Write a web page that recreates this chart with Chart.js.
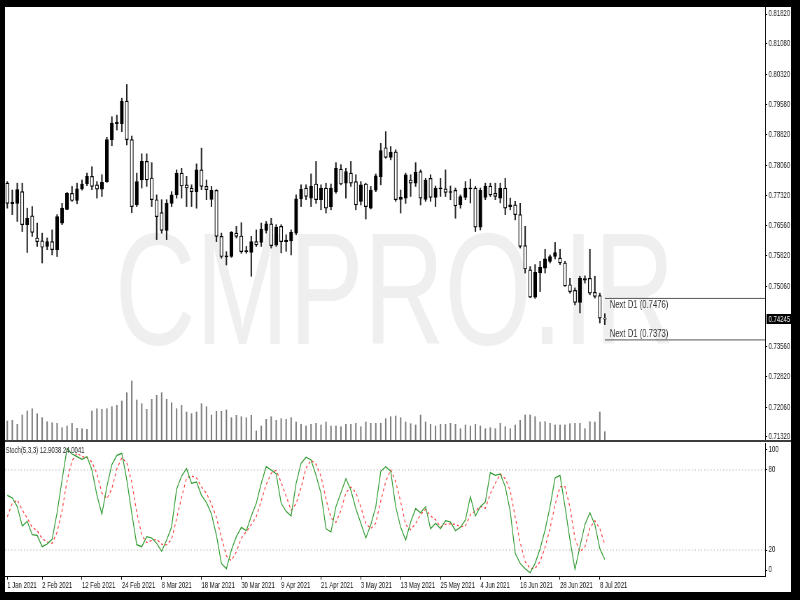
<!DOCTYPE html>
<html>
<head>
<meta charset="utf-8">
<title>D1 chart</title>
<script src="https://cdn.jsdelivr.net/npm/chart.js@4.4.1/dist/chart.umd.min.js"></script>
<style>
  html, body { margin: 0; padding: 0; background: #000; }
  body { width: 800px; height: 600px; position: relative; overflow: hidden; }
  #frame { position: absolute; left: 5px; top: 7px; width: 786px; height: 585px; background: #fff; }
  #sep { position: absolute; left: 5px; top: 440px; width: 786px; height: 2px; background: #3c3c3c; }
  canvas { position: absolute; left: 5px; }
</style>
</head>
<body>
<div id="frame"></div>
<canvas id="price" width="1123" height="433" style="top:7px;width:786px;height:433px"></canvas>
<div id="sep"></div>
<canvas id="stoch" width="1123" height="150" style="top:442px;width:786px;height:150px"></canvas>
<script>
// daily candles, oldest first
const opens = [
  0.7762,0.7711,0.7712,0.7741,0.7659,0.7681,0.7626,0.7619,0.7605,0.7617,
  0.7597,0.7663,0.7697,0.7737,0.7719,0.7748,0.7761,0.7779,0.7758,0.7747,
  0.7766,0.7870,0.7910,0.7910,0.7966,0.7870,0.7708,0.7770,0.7816,0.7775,
  0.7721,0.7689,0.7645,0.7712,0.7733,0.7787,0.7758,0.7750,0.7741,0.7795,
  0.7754,0.7722,0.7744,0.7630,0.7579,0.7580,0.7638,0.7631,0.7592,0.7590,
  0.7617,0.7615,0.7645,0.7661,0.7609,0.7655,0.7617,0.7619,0.7638,0.7723,
  0.7750,0.7725,0.7760,0.7721,0.7750,0.7704,0.7741,0.7797,0.7762,0.7787,
  0.7766,0.7717,0.7760,0.7700,0.7745,0.7778,0.7850,0.7826,0.7840,0.7722,
  0.7725,0.7770,0.7762,0.7791,0.7722,0.7774,0.7727,0.7748,0.7748,0.7739,
  0.7744,0.7708,0.7727,0.7748,0.7750,0.7653,0.7727,0.7755,0.7737,0.7725,
  0.7750,0.7704,0.7708,0.7684,0.7607,0.7547,0.7479,0.7539,0.7551,0.7568,
  0.7580,0.7576,0.7564,0.7510,0.7496,0.7466,0.7521,0.7526,0.7491,0.7483,
  0.7426
];
const highs = [
  0.7766,0.7745,0.7762,0.7762,0.7700,0.7704,0.7663,0.7638,0.7626,0.7646,
  0.7684,0.7712,0.7739,0.7754,0.7762,0.7770,0.7787,0.7803,0.7766,0.7783,
  0.7876,0.7927,0.7931,0.7973,0.8007,0.7879,0.7787,0.7835,0.7835,0.7813,
  0.7733,0.7721,0.7721,0.7741,0.7795,0.7799,0.7779,0.7758,0.7810,0.7849,
  0.7770,0.7754,0.7746,0.7638,0.7592,0.7642,0.7655,0.7664,0.7605,0.7630,
  0.7646,0.7663,0.7667,0.7675,0.7659,0.7659,0.7634,0.7646,0.7733,0.7758,
  0.7758,0.7785,0.7816,0.7758,0.7762,0.7760,0.7813,0.7808,0.7799,0.7816,
  0.7783,0.7766,0.7762,0.7754,0.7785,0.7861,0.7890,0.7853,0.7845,0.7745,
  0.7787,0.7783,0.7813,0.7795,0.7774,0.7783,0.7755,0.7774,0.7795,0.7755,
  0.7750,0.7733,0.7766,0.7772,0.7754,0.7750,0.7762,0.7762,0.7762,0.7762,
  0.7774,0.7725,0.7717,0.7712,0.7655,0.7555,0.7560,0.7568,0.7598,0.7584,
  0.7615,0.7598,0.7568,0.7526,0.7502,0.7531,0.7532,0.7598,0.7531,0.7489,
  0.7438
];
const lows = [
  0.7700,0.7684,0.7667,0.7642,0.7590,0.7630,0.7605,0.7564,0.7597,0.7584,
  0.7580,0.7659,0.7696,0.7717,0.7711,0.7745,0.7756,0.7746,0.7725,0.7729,
  0.7764,0.7855,0.7894,0.7890,0.7857,0.7689,0.7704,0.7750,0.7754,0.7704,
  0.7622,0.7638,0.7622,0.7704,0.7725,0.7725,0.7704,0.7704,0.7700,0.7746,
  0.7721,0.7704,0.7617,0.7576,0.7559,0.7578,0.7626,0.7588,0.7588,0.7531,
  0.7605,0.7605,0.7638,0.7601,0.7605,0.7589,0.7593,0.7584,0.7634,0.7704,
  0.7721,0.7704,0.7712,0.7696,0.7688,0.7696,0.7737,0.7758,0.7725,0.7754,
  0.7696,0.7708,0.7673,0.7698,0.7741,0.7758,0.7824,0.7820,0.7717,0.7688,
  0.7712,0.7729,0.7754,0.7708,0.7717,0.7717,0.7704,0.7729,0.7729,0.7721,
  0.7675,0.7700,0.7721,0.7713,0.7642,0.7646,0.7721,0.7729,0.7721,0.7713,
  0.7684,0.7696,0.7671,0.7601,0.7539,0.7478,0.7476,0.7493,0.7539,0.7564,
  0.7574,0.7560,0.7506,0.7489,0.7460,0.7440,0.7514,0.7485,0.7477,0.7415,
  0.7411
];
const closes = [
  0.7712,0.7715,0.7746,0.7659,0.7675,0.7640,0.7617,0.7603,0.7617,0.7597,
  0.7679,0.7700,0.7737,0.7719,0.7748,0.7760,0.7779,0.7754,0.7747,0.7764,
  0.7870,0.7911,0.7913,0.7966,0.7870,0.7704,0.7766,0.7816,0.7770,0.7721,
  0.7679,0.7645,0.7712,0.7733,0.7787,0.7755,0.7750,0.7741,0.7795,0.7754,
  0.7746,0.7744,0.7630,0.7580,0.7582,0.7640,0.7630,0.7592,0.7595,0.7617,
  0.7609,0.7648,0.7661,0.7607,0.7653,0.7617,0.7621,0.7640,0.7723,0.7747,
  0.7729,0.7755,0.7721,0.7750,0.7700,0.7750,0.7799,0.7760,0.7791,0.7762,
  0.7708,0.7758,0.7704,0.7745,0.7780,0.7843,0.7826,0.7839,0.7721,0.7727,
  0.7783,0.7762,0.7789,0.7725,0.7770,0.7727,0.7750,0.7750,0.7739,0.7741,
  0.7706,0.7729,0.7750,0.7750,0.7653,0.7744,0.7755,0.7733,0.7729,0.7750,
  0.7700,0.7708,0.7684,0.7605,0.7549,0.7479,0.7541,0.7554,0.7574,0.7580,
  0.7590,0.7564,0.7507,0.7493,0.7466,0.7526,0.7525,0.7489,0.7481,0.7427,
  0.74245
];
// tick volume
const volumes = [
  19000,19700,15700,25000,29000,31300,26300,22300,18300,17300,
  16700,12300,14000,16700,11700,11300,10700,29000,31300,30700,
  31300,33300,34700,39000,47300,59000,40000,36300,30700,40700,
  44700,47300,40700,37300,31300,34700,28000,26300,28000,36300,
  33300,25000,28700,28700,30000,22300,24700,23300,22300,24700,
  9000,14000,20700,23300,19700,21300,20700,22300,18000,15700,
  14000,15700,16700,15000,18000,14000,14000,13300,15700,15700,
  16700,13300,18000,16700,16700,16700,21300,23300,24000,22300,
  18000,16300,15000,25000,18000,15700,14000,15700,15700,16700,
  15700,11300,15000,14000,15700,14000,11300,12300,11300,16700,
  13300,11300,15000,19700,25000,25000,23300,18000,18300,16700,
  15000,15000,15000,16300,16700,16700,11300,18300,18000,28000,
  8300
];
// Stochastic(5,3,3)
const stochMain = [
  61,59,52.5,38,41.5,31.5,31,22.5,24.5,28,
  48,72.5,96,92,90,88,90,80,61,47,
  67.5,84,91,92.5,72.5,47.5,24,22.5,30,29,
  25,19,27.5,37.5,65.5,75.5,81,70,71,61,
  55.5,47,31,10,6,20,30,37,34.5,45.5,
  55,70,82.5,80,77,55,49,45.5,70,85,
  89.5,87.5,76,62.5,36,33.5,52.5,63,73.5,65,
  51,40,29,39,52.5,79,82.5,79,52.5,37,
  27.5,41,51,48,52.5,36,40,36,42,41,
  34.5,37,42.5,60,45.5,52.5,56,78,76,77,
  67.5,49,17.5,10,6,3,10,21,35,52.5,
  74,76,52.5,27.5,5.5,22.5,39,48,39,21,
  12.9038
];
const stochSignal = [
  45,55,57.5,50,44,37,34.5,28.5,26,25,
  33.5,49.5,72,86.8,92.7,90,89.3,86,77,62.7,
  58.5,66,80.8,89.2,85.3,70.8,48,31.3,25.5,27.2,
  28,24.3,23.8,28,43.5,59.5,74,75.5,74,67.3,
  62.5,54.5,44.5,29.3,15.7,12,18.7,29,33.8,39,
  45,56.8,69.2,77.5,79.8,70.7,60.3,49.8,54.8,66.8,
  81.5,87.3,84.3,75.3,58.2,44,40.7,49.7,63,67.2,
  63.2,52,40,36,40.2,56.8,71.3,80.2,71.3,56.2,
  39,35.2,39.8,46.7,50.5,45.5,42.8,37.3,39.3,39.7,
  39.2,37.5,38,46.5,49.3,52.7,51.3,62.2,70,77,
  73.5,64.5,44.7,25.5,11.2,6.3,6.3,11.3,22,36.2,
  53.8,67.5,67.5,52,28.5,18.5,22.3,36.5,42,36,
  24.0041
];
const priceTicks = [0.8182,0.8108,0.8032,0.7958,0.7882,0.7806,0.7732,0.7656,0.7582,0.7506,0.7356,0.7282,0.7206,0.7132];
const dateIndex = [0,7,15,23,31,39,47,55,63,71,79,87,95,103,111,119];
const dateLabels = ['1 Jan 2021','2 Feb 2021','12 Feb 2021','24 Feb 2021','8 Mar 2021','18 Mar 2021','30 Mar 2021','9 Apr 2021',
  '21 Apr 2021','3 May 2021','13 May 2021','25 May 2021','4 Jun 2021','16 Jun 2021','28 Jun 2021','8 Jul 2021'];
const nextLevels = [0.7476, 0.7373];
const stochLevels = [20, 80];
const stochTicks = [5, 20, 80, 95.5];
const stochTickText = ['0', '20', '80', '100'];

const X_MIN = -0.46, X_MAX = 152.19;
const last = closes.length - 1;
const FAMILY = '"Liberation Sans", Arial, sans-serif';
const axisFont = { family: FAMILY, size: 8.5 };

// keep the plot area full size: no extra room for the end labels
function noPad(s) {
  s.paddingTop = 0; s.paddingBottom = 0; s.paddingLeft = 0; s.paddingRight = 0;
}

const priceDecor = {
  id: 'priceDecor',
  beforeDatasetsDraw(chart) {
    const ctx = chart.ctx;
    ctx.save();
    ctx.fillStyle = '#efefef';
    ctx.font = '160px ' + FAMILY;
    ctx.fillText('CMPRO.IR', 157, 337);
    ctx.restore();
  },
  afterDraw(chart) {
    const { ctx, chartArea, scales } = chart;
    ctx.save();
    ctx.textBaseline = 'middle';
    ctx.font = '11px ' + FAMILY;
    ctx.fillStyle = '#333';
    const x0 = scales.x.getPixelForValue(last) + 7;
    nextLevels.forEach((lvl, k) => {
      const py = scales.y.getPixelForValue(lvl) + (k === 0 ? 7 : -6);
      ctx.fillText('Next D1 (' + lvl.toFixed(4) + ')', x0, py);
    });
    // current bid on the price scale
    const cy = Math.round(scales.y.getPixelForValue(closes[last]));
    ctx.fillStyle = '#000';
    ctx.fillRect(chartArea.right + 2, cy - 5, chart.width - chartArea.right - 2, 10);
    ctx.fillStyle = '#fff';
    ctx.font = '8.5px ' + FAMILY;
    ctx.fillText(closes[last].toFixed(5), chartArea.right + 5, cy + 0.5);
    ctx.restore();
  }
};

new Chart(document.getElementById('price'), {
  type: 'bar',
  data: {
    datasets: [
      {
        label: 'body',
        data: opens.map((o, i) => ({ x: i, y: [o, closes[i]] })),
        backgroundColor: c => closes[c.dataIndex] >= opens[c.dataIndex] ? '#000' : '#fff',
        borderColor: '#000',
        borderWidth: 1.2,
        borderSkipped: false,
        barThickness: 4.6,
        minBarLength: 1,
        grouped: false,
        order: 1
      },
      {
        label: 'wick',
        data: lows.map((l, i) => ({ x: i, y: [l, highs[i]] })),
        backgroundColor: '#222',
        barThickness: 1.4,
        grouped: false,
        order: 2
      },
      {
        label: 'volume',
        yAxisID: 'vol',
        data: volumes.map((v, i) => ({ x: i, y: v })),
        backgroundColor: '#7c7c7c',
        barThickness: 1.4,
        grouped: false,
        order: 3
      },
      ...nextLevels.map(lvl => ({
        type: 'line',
        label: 'Next D1',
        data: [{ x: last, y: lvl }, { x: X_MAX, y: lvl }],
        borderColor: '#555',
        borderWidth: 1,
        pointRadius: 0,
        order: 0
      }))
    ]
  },
  options: {
    responsive: false,
    animation: false,
    devicePixelRatio: 1,
    layout: { padding: 0 },
    plugins: { legend: { display: false }, tooltip: { enabled: false } },
    scales: {
      x: { type: 'linear', min: X_MIN, max: X_MAX, offset: false, display: false, grid: { offset: false } },
      y: {
        position: 'right', min: 0.712454, max: 0.819938, bounds: 'data', beginAtZero: false,
        afterFit: s => { s.width = 37; noPad(s); },
        afterBuildTicks: s => { s.ticks = priceTicks.map(v => ({ value: v })); },
        ticks: { callback: v => Number(v).toFixed(5), font: axisFont, color: '#111', padding: 2 },
        grid: { drawOnChartArea: false, tickLength: 3, tickColor: '#000' },
        border: { color: '#000' }
      },
      vol: { display: false, min: 0, max: 433000, position: 'left' }
    }
  },
  plugins: [priceDecor]
});

const stochDecor = {
  id: 'stochDecor',
  afterDraw(chart) {
    const ctx = chart.ctx;
    ctx.save();
    ctx.font = '8.5px ' + FAMILY;
    ctx.fillStyle = '#222';
    ctx.textBaseline = 'middle';
    ctx.fillText('Stoch(5,3,3) ' + stochMain[last].toFixed(4) + ' ' + stochSignal[last].toFixed(4), 1, 8.5);
    ctx.restore();
  }
};

new Chart(document.getElementById('stoch'), {
  type: 'line',
  data: {
    datasets: [
      {
        label: 'Main',
        data: stochMain.map((v, i) => ({ x: i, y: v })),
        borderColor: '#2e9a2e',
        borderWidth: 1.2,
        pointRadius: 0,
        tension: 0,
        order: 1
      },
      {
        label: 'Signal',
        data: stochSignal.map((v, i) => ({ x: i, y: v })),
        borderColor: '#ff3b3b',
        borderDash: [3, 3],
        borderWidth: 1.2,
        pointRadius: 0,
        tension: 0,
        order: 2
      },
      ...stochLevels.map(lvl => ({
        label: 'level',
        data: [{ x: X_MIN, y: lvl }, { x: X_MAX, y: lvl }],
        borderColor: '#b4b4b4',
        borderDash: [1.5, 3],
        borderWidth: 1,
        pointRadius: 0,
        order: 3
      }))
    ]
  },
  options: {
    responsive: false,
    animation: false,
    devicePixelRatio: 1,
    layout: { padding: { top: 1.3, left: 0, right: 0, bottom: 0 } },
    plugins: { legend: { display: false }, tooltip: { enabled: false } },
    scales: {
      x: {
        type: 'linear', min: X_MIN, max: X_MAX, offset: false, bounds: 'data',
        afterFit: s => { s.height = 15.3; noPad(s); },
        afterBuildTicks: s => { s.ticks = dateIndex.map(v => ({ value: v })); },
        ticks: {
          autoSkip: false, maxRotation: 0, minRotation: 0, align: 'start', padding: 1,
          font: axisFont, color: '#111',
          callback: (v, idx) => dateLabels[idx]
        },
        grid: { drawOnChartArea: false, tickLength: 3, tickColor: '#000' },
        border: { color: '#000' }
      },
      y: {
        position: 'right', min: 0, max: 100, bounds: 'data',
        afterFit: s => { s.width = 37; noPad(s); },
        afterBuildTicks: s => { s.ticks = stochTicks.map(v => ({ value: v })); },
        ticks: { callback: (v, idx) => stochTickText[idx], font: axisFont, color: '#111', padding: 2 },
        grid: { drawOnChartArea: false, tickLength: 3, tickColor: '#000' },
        border: { color: '#000' }
      }
    }
  },
  plugins: [stochDecor]
});
</script>
</body>
</html>
